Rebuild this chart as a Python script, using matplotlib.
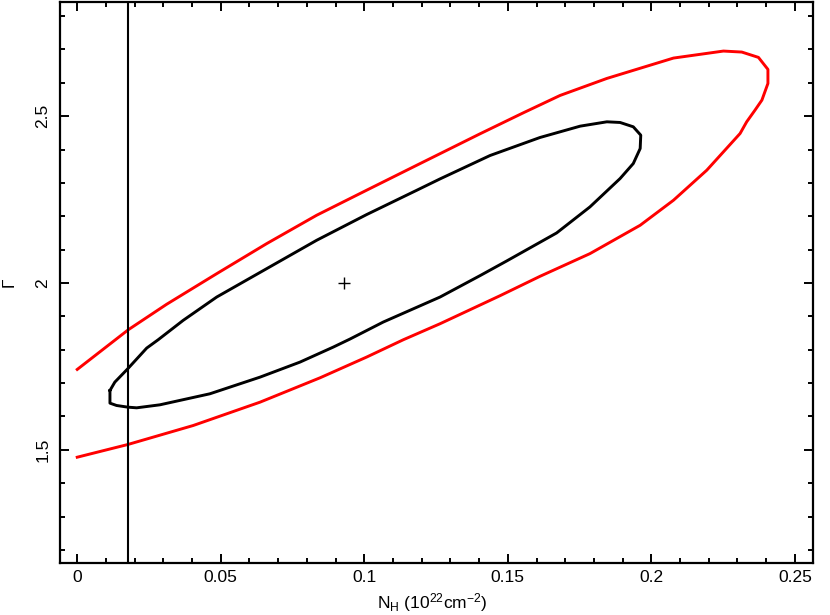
# contour_nh_gamma.py
# Confidence contours of photon index vs. absorbing column (red/black), best fit cross,
# vertical line at the Galactic N_H.

import numpy as np
import matplotlib
matplotlib.use("Agg")
import matplotlib.pyplot as plt
from matplotlib.ticker import MultipleLocator, FixedLocator, FixedFormatter

plt.rcParams['font.family'] = ['Liberation Sans', 'DejaVu Sans']
plt.rcParams['mathtext.default'] = 'regular'
plt.rcParams['mathtext.fontset'] = 'custom'
plt.rcParams['mathtext.rm'] = 'Liberation Sans'

# outer contour (red), open at N_H = 0
red_nh = [0.0, 0.0178, 0.0311, 0.0486, 0.0660, 0.0834, 0.1008, 0.1183, 0.1403,
          0.1554, 0.1682, 0.1845, 0.2077, 0.2251, 0.2315, 0.2373, 0.2406, 0.2406,
          0.2385, 0.2361, 0.2332, 0.2309, 0.2193, 0.2077, 0.1961, 0.1786, 0.1612,
          0.1473, 0.1264, 0.1136, 0.1008, 0.0846, 0.0637, 0.0404, 0.0176, 0.0]
red_gamma = [1.741, 1.860, 1.936, 2.028, 2.118, 2.203, 2.278, 2.353, 2.447,
             2.510, 2.562, 2.613, 2.674, 2.695, 2.692, 2.676, 2.640, 2.598,
             2.548, 2.518, 2.483, 2.448, 2.338, 2.248, 2.173, 2.088, 2.020,
             1.962, 1.878, 1.830, 1.778, 1.716, 1.643, 1.573, 1.516, 1.478]

# inner contour (black), closed
blk_nh = [0.0114, 0.0131, 0.0176, 0.0242, 0.0282, 0.0369, 0.0486, 0.0660, 0.0834,
          0.1008, 0.1183, 0.1264, 0.1438, 0.1612, 0.1752, 0.1845, 0.1891, 0.1937,
          0.1963, 0.1961, 0.1937, 0.1891, 0.1786, 0.1670, 0.1496, 0.1403, 0.1264,
          0.1066, 0.0950, 0.0892, 0.0776, 0.0637, 0.0462, 0.0288, 0.0207, 0.0176,
          0.0137, 0.0114, 0.0114]
blk_gamma = [1.678, 1.703, 1.743, 1.805, 1.830, 1.888, 1.958, 2.043, 2.128,
             2.205, 2.278, 2.312, 2.382, 2.436, 2.470, 2.483, 2.481, 2.468,
             2.443, 2.403, 2.358, 2.313, 2.228, 2.150, 2.066, 2.022, 1.958,
             1.883, 1.832, 1.808, 1.763, 1.718, 1.668, 1.635, 1.626, 1.628,
             1.633, 1.640, 1.678]

best_fit = (0.093, 2.0)
nh_gal = 0.0177

x_ticks = [0, 0.05, 0.1, 0.15, 0.2, 0.25]
x_labels = ['0', '0.05', '0.1', '0.15', '0.2', '0.25']
y_ticks = [1.5, 2.0, 2.5]
y_labels = ['1.5', '2', '2.5']

fig = plt.figure(figsize=(8.3, 6.15), dpi=100)
ax = fig.add_axes([60 / 830, 1 - 563 / 615, 753 / 830, 561 / 615])

ax.plot(red_nh, red_gamma, color='#ff0000', lw=2.1, solid_joinstyle='round')
ax.plot(blk_nh, blk_gamma, color='black', lw=2.1, solid_joinstyle='round')
ax.axvline(nh_gal, color='black', lw=1.5)
ax.plot(*best_fit, marker='+', color='black', ms=9, mew=1.0)

ax.set_xlim(-0.006, 0.2563)
ax.set_ylim(1.161, 2.842)

ax.xaxis.set_major_locator(FixedLocator(x_ticks))
ax.xaxis.set_major_formatter(FixedFormatter(x_labels))
ax.yaxis.set_major_locator(FixedLocator(y_ticks))
ax.yaxis.set_major_formatter(FixedFormatter(y_labels))
ax.xaxis.set_minor_locator(MultipleLocator(0.01))
ax.yaxis.set_minor_locator(MultipleLocator(0.1))

ax.tick_params(which='both', direction='in', top=True, right=True, width=1.4,
               labelsize=12.5, colors='black')
ax.tick_params(which='major', length=6.5)
ax.tick_params(which='minor', length=3.6)
ax.tick_params(axis='x', pad=5)
ax.tick_params(axis='y', pad=7)
for lab in ax.get_yticklabels():
    lab.set_rotation(90)
    lab.set_va('center')

for sp in ax.spines.values():
    sp.set_linewidth(1.6)

ax.text(0.494, -0.071, r'N$_H$ (10$^{22}$cm$^{-2}$)', transform=ax.transAxes,
        ha='center', va='center', fontsize=12.5)
ax.text(-0.067, 0.5, 'Γ', transform=ax.transAxes, rotation=90,
        ha='center', va='center', fontsize=12.5)

fig.savefig('out.png', dpi=100)
